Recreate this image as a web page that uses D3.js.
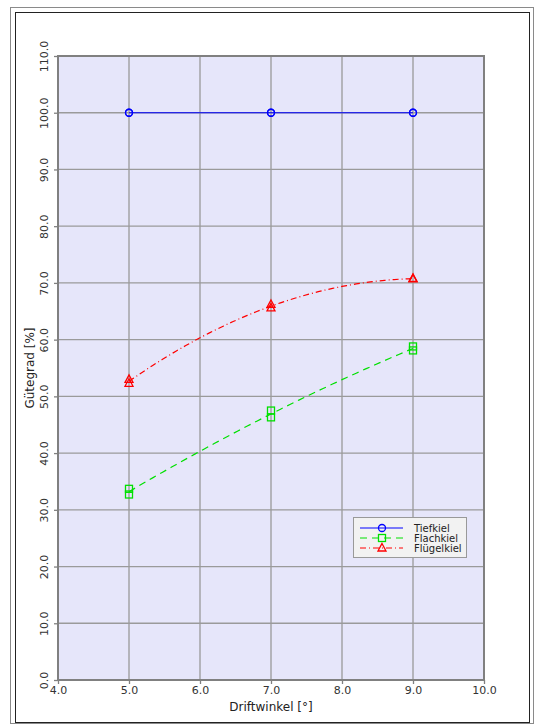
<!DOCTYPE html>
<html>
<head>
<meta charset="utf-8">
<script src="https://cdn.jsdelivr.net/npm/d3@7"></script>
<style>
  html, body { margin: 0; padding: 0; background: #fff; }
  svg { display: block; font-family: "DejaVu Sans", Verdana, sans-serif; }
</style>
</head>
<body>
<svg id="chart" width="535" height="725"></svg>
<script>
// Driftwinkel (x) and two measurement runs per keel type
const driftwinkel = [5, 7, 9];
const tiefkielA = [100, 100, 100];
const tiefkielB = [100, 100, 100];
const flachkielA = [33.7, 47.5, 58.8];
const flachkielB = [32.7, 46.3, 58.1];
const fluegelkielA = [53.0, 66.2, 70.8];
const fluegelkielB = [52.3, 65.6, 70.7];

const xTicks = [4, 5, 6, 7, 8, 9, 10];
const yTicks = [0, 10, 20, 30, 40, 50, 60, 70, 80, 90, 100, 110];
const seriesNames = ["Tiefkiel", "Flachkiel", "Flügelkiel"];

const svg = d3.select("#chart");

// double frame around the whole figure
svg.append("rect").attr("x", 10.5).attr("y", 7.5).attr("width", 523).attr("height", 716)
  .attr("fill", "none").attr("stroke", "#8a8a8a").attr("stroke-width", 1);
svg.append("rect").attr("x", 15.5).attr("y", 12.5).attr("width", 514).attr("height", 710)
  .attr("fill", "none").attr("stroke", "#222").attr("stroke-width", 1);

const plot = { left: 58, right: 484, top: 56, bottom: 680 };
const x = d3.scaleLinear().domain([4, 10]).range([plot.left, plot.right]);
const y = d3.scaleLinear().domain([0, 110]).range([plot.bottom, plot.top]);

// plot background
svg.append("rect").attr("x", plot.left).attr("y", plot.top)
  .attr("width", plot.right - plot.left).attr("height", plot.bottom - plot.top)
  .attr("fill", "#e6e6fa");

// grid
const grid = svg.append("g").attr("stroke", "#9a9a9a").attr("stroke-width", 1.3);
grid.selectAll(".gx").data(xTicks).join("line")
  .attr("x1", d => x(d)).attr("x2", d => x(d)).attr("y1", plot.top).attr("y2", plot.bottom);
grid.selectAll(".gy").data(yTicks).join("line")
  .attr("y1", d => y(d)).attr("y2", d => y(d)).attr("x1", plot.left).attr("x2", plot.right);

// plot border
svg.append("rect").attr("x", plot.left).attr("y", plot.top)
  .attr("width", plot.right - plot.left).attr("height", plot.bottom - plot.top)
  .attr("fill", "none").attr("stroke", "#808080").attr("stroke-width", 2);

// axes
const xAxis = svg.append("g").attr("transform", `translate(0,${plot.bottom})`)
  .call(d3.axisBottom(x).tickValues(xTicks).tickFormat(d3.format(".1f")).tickSize(4).tickPadding(2));
const yAxis = svg.append("g").attr("transform", `translate(${plot.left},0)`)
  .call(d3.axisLeft(y).tickValues(yTicks).tickFormat(d3.format(".1f")).tickSize(4));
[xAxis, yAxis].forEach(a => {
  a.select(".domain").remove();
  a.selectAll(".tick line").attr("stroke", "#808080").attr("stroke-width", 1.3);
  a.selectAll("text").attr("fill", "#333").attr("font-size", 11)
    .attr("font-family", "DejaVu Sans, Verdana, sans-serif");
});
yAxis.selectAll(".tick text")
  .attr("x", null).attr("dy", null).attr("text-anchor", "middle")
  .attr("transform", "translate(-10,0) rotate(-90)")
  .attr("dy", "0");

// axis titles
svg.append("text").attr("x", (plot.left + plot.right) / 2).attr("y", 711)
  .attr("text-anchor", "middle").attr("font-size", 12).attr("fill", "#222")
  .text("Driftwinkel [°]");
svg.append("text").attr("transform", `translate(34,${(plot.top + plot.bottom) / 2}) rotate(-90)`)
  .attr("text-anchor", "middle").attr("font-size", 12).attr("fill", "#222")
  .text("Gütegrad [%]");

// quadratic trend through the run means
function quadFit(xs, ys) {
  return t => {
    let s = 0;
    for (let i = 0; i < xs.length; i++) {
      let term = ys[i];
      for (let j = 0; j < xs.length; j++) if (j !== i) term *= (t - xs[j]) / (xs[i] - xs[j]);
      s += term;
    }
    return s;
  };
}
const meanOf = (a, b) => a.map((v, i) => (v + b[i]) / 2);

const series = [
  { name: seriesNames[0], a: tiefkielA, b: tiefkielB, color: "#0000ff", dash: null, marker: "circle" },
  { name: seriesNames[1], a: flachkielA, b: flachkielB, color: "#00e000", dash: "7,5", marker: "square" },
  { name: seriesNames[2], a: fluegelkielA, b: fluegelkielB, color: "#ff0000", dash: "6,3,1,3", marker: "triangle" }
];

function drawMarker(g, type, cx, cy, color) {
  if (type === "circle") {
    g.append("circle").attr("cx", cx).attr("cy", cy).attr("r", 3.5)
      .attr("fill", "none").attr("stroke", color).attr("stroke-width", 1.3);
  } else if (type === "square") {
    g.append("rect").attr("x", cx - 3.5).attr("y", cy - 3.5).attr("width", 7).attr("height", 7)
      .attr("fill", "none").attr("stroke", color).attr("stroke-width", 1.3);
  } else {
    g.append("path").attr("d", `M${cx},${cy - 4.5}L${cx + 4},${cy + 3}L${cx - 4},${cy + 3}Z`)
      .attr("fill", "none").attr("stroke", color).attr("stroke-width", 1.3);
  }
}

const line = d3.line().x(d => x(d[0])).y(d => y(d[1]));
series.forEach(s => {
  const f = quadFit(driftwinkel, meanOf(s.a, s.b));
  const x0 = d3.min(driftwinkel), x1 = d3.max(driftwinkel);
  const pts = d3.range(0, 61).map(i => { const t = x0 + (x1 - x0) * i / 60; return [t, f(t)]; });
  svg.append("path").attr("d", line(pts)).attr("fill", "none")
    .attr("stroke", s.color).attr("stroke-width", 1.2)
    .attr("stroke-dasharray", s.dash);
  const g = svg.append("g");
  driftwinkel.forEach((dx, i) => {
    drawMarker(g, s.marker, x(dx), y(s.a[i]), s.color);
    drawMarker(g, s.marker, x(dx), y(s.b[i]), s.color);
  });
});

// legend
const lg = svg.append("g").attr("transform", "translate(353,517)");
lg.append("rect").attr("x", 0.5).attr("y", 0.5).attr("width", 113).attr("height", 40)
  .attr("fill", "#f2f2f2").attr("stroke", "#999").attr("stroke-width", 1);
series.forEach((s, i) => {
  const yy = 11 + i * 10;
  lg.append("line").attr("x1", 7).attr("x2", 50).attr("y1", yy).attr("y2", yy)
    .attr("stroke", s.color).attr("stroke-width", 1.2).attr("stroke-dasharray", s.dash);
  drawMarker(lg, s.marker, 29, yy, s.color);
  lg.append("text").attr("x", 61).attr("y", yy + 3.5).attr("font-size", 10).attr("fill", "#222")
    .text(s.name);
});
</script>
</body>
</html>
